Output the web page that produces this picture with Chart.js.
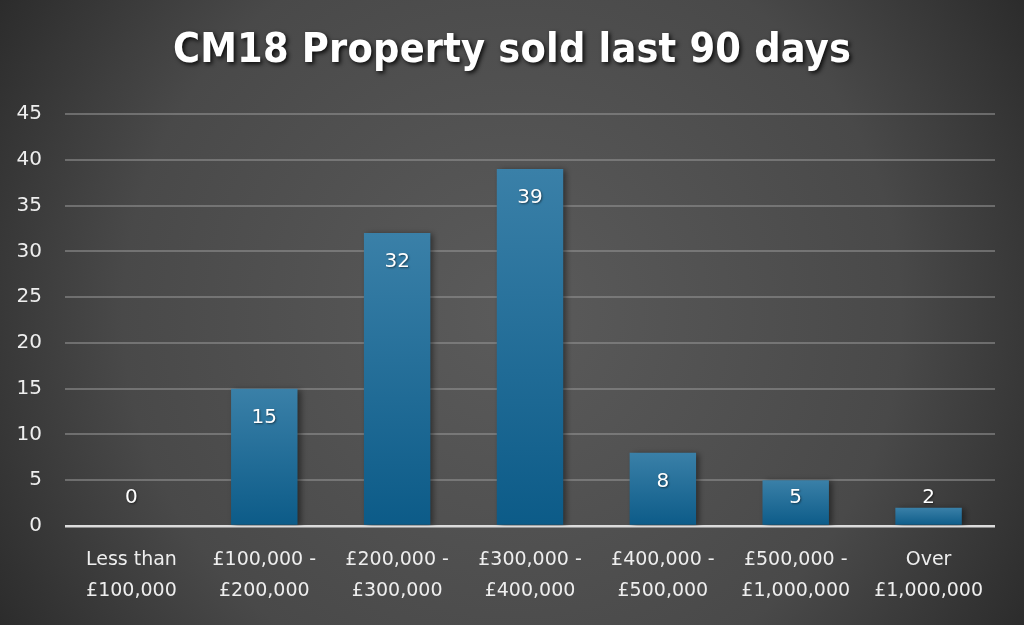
<!DOCTYPE html>
<html><head><meta charset="utf-8">
<script src="https://cdn.jsdelivr.net/npm/chart.js@4.4.0/dist/chart.umd.min.js"></script>
<style>html,body{margin:0;padding:0;background:#2b2b2b;overflow:hidden}#wrap{width:1024px;height:625px}</style>
</head><body><div id="wrap"><canvas id="c" width="1024" height="625"></canvas></div>
<script>
const titleText = 'CM18 Property sold last 90 days';
const categories = [['Less than','£100,000'],['£100,000 -','£200,000'],['£200,000 -','£300,000'],['£300,000 -','£400,000'],['£400,000 -','£500,000'],['£500,000 -','£1,000,000'],['Over','£1,000,000']];
const soldCounts = [0, 15, 32, 39, 8, 5, 2];
const yTicks = [0,5,10,15,20,25,30,35,40,45];

const bgPlugin = {
  id:'bg',
  beforeDraw(chart){
    const {ctx,width,height} = chart;
    ctx.save();
    const g = ctx.createRadialGradient(width/2, height*0.5, 20, width/2, height*0.5, width*0.62);
    g.addColorStop(0,'#5a5a5a');
    g.addColorStop(0.6,'#494949');
    g.addColorStop(1,'#272727');
    ctx.fillStyle = g;
    ctx.fillRect(0,0,width,height);
    ctx.restore();
  },
  beforeDatasetsDraw(chart){
    const ctx = chart.ctx;
    ctx.save();
    ctx.shadowColor='rgba(0,0,0,0.45)';
    ctx.shadowBlur=6;
    ctx.shadowOffsetX=3;
    ctx.shadowOffsetY=1;
  },
  afterDatasetsDraw(chart){
    chart.ctx.restore();
  },
  afterDraw(chart){
    const {ctx,width} = chart;
    ctx.save();
    ctx.font = 'bold 41px "DejaVu Sans Condensed","DejaVu Sans",sans-serif';
    try{ctx.letterSpacing='0.2px';}catch(e){}
    ctx.textAlign='center';
    ctx.textBaseline='middle';
    ctx.shadowColor='rgba(0,0,0,0.85)';
    ctx.shadowBlur=4;
    ctx.shadowOffsetX=2;
    ctx.shadowOffsetY=2;
    ctx.fillStyle='#ffffff';
    ctx.fillText(titleText, width/2, 51);
    try{ctx.letterSpacing='0px';}catch(e){}
    const meta = chart.getDatasetMeta(0);
    const ys = chart.scales.y;
    const base = ys.getPixelForValue(0);
    ctx.font = '20px "DejaVu Sans",sans-serif';
    ctx.shadowColor='rgba(0,0,0,0.5)';
    ctx.shadowBlur=2;
    ctx.shadowOffsetX=1;
    ctx.shadowOffsetY=1;
    meta.data.forEach((bar,i)=>{
      const top = ys.getPixelForValue(soldCounts[i]);
      const y = Math.min(top + 29, base - 28);
      ctx.fillText(String(soldCounts[i]), bar.x, y);
    });
    ctx.restore();
  }
};

function barGrad(context){
  const chart = context.chart;
  const ys = chart.scales.y;
  if(!ys || context.dataIndex === undefined) return '#1d6b96';
  const v = soldCounts[context.dataIndex];
  const top = ys.getPixelForValue(v);
  const bottom = ys.getPixelForValue(0);
  if(!isFinite(top) || bottom - top < 1) return '#1d6b96';
  const g = chart.ctx.createLinearGradient(0, top, 0, bottom);
  g.addColorStop(0,'#3a80a8');
  g.addColorStop(1,'#0c5b88');
  return g;
}

new Chart(document.getElementById('c'), {
  type:'bar',
  data:{labels:categories, datasets:[{data:soldCounts, backgroundColor:barGrad, borderWidth:0, barPercentage:1, categoryPercentage:0.5}]},
  options:{
    responsive:false, animation:false, devicePixelRatio:1,
    layout:{padding:{top:114,left:12,right:29,bottom:0}},
    plugins:{legend:{display:false},tooltip:{enabled:false},title:{display:false}},
    scales:{
      x:{
        grid:{display:false, drawTicks:false},
        border:{display:false},
        ticks:{color:'#eeeeee', font:{family:'"DejaVu Sans",sans-serif', size:19, lineHeight:1.6}, padding:19, maxRotation:0, autoSkip:false},
        afterFit(s){ s.height = 99; }
      },
      y:{
        min:0, max:45,
        afterBuildTicks(s){ s.ticks = yTicks.map(v=>({value:v})); },
        grid:{drawTicks:false, color:(c)=> c.tick && c.tick.value===0 ? '#dcdcdc' : 'rgba(150,150,150,0.55)', lineWidth:(c)=> c.tick && c.tick.value===0 ? 2.5 : 2},
        border:{display:false},
        ticks:{color:'#eeeeee', font:{family:'"DejaVu Sans",sans-serif', size:20}, padding:23},
        afterFit(s){ s.width = 53; }
      }
    }
  },
  plugins:[bgPlugin]
});
</script></body></html>
